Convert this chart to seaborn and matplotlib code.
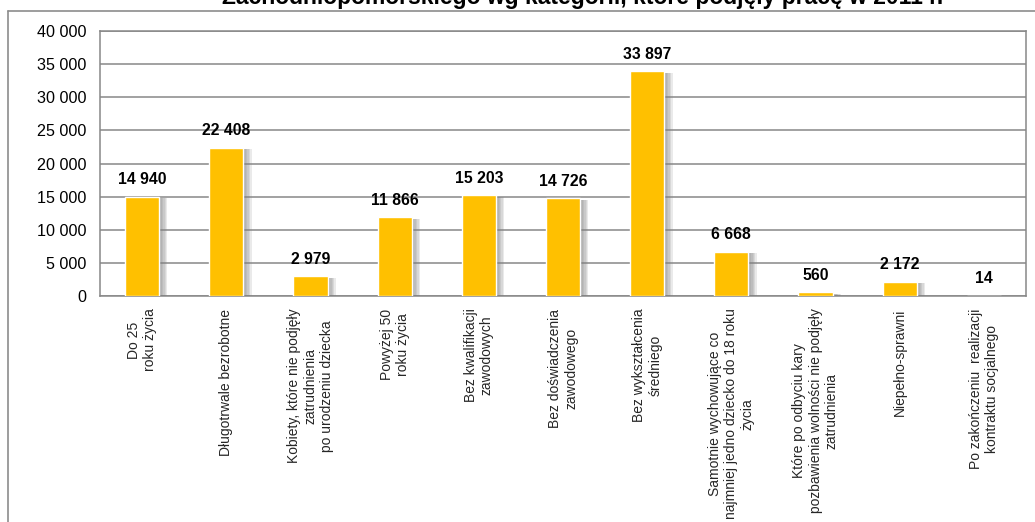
import matplotlib
matplotlib.use("Agg")
import matplotlib.pyplot as plt
import matplotlib.patheffects as pe
from matplotlib.ticker import FuncFormatter, FixedLocator
from matplotlib.lines import Line2D
import seaborn as sns
import pandas as pd

categories = [
    "Do 25\nroku życia",
    "Długotrwale bezrobotne",
    "Kobiety, które nie podjęły\nzatrudnienia\npo urodzeniu dziecka",
    "Powyżej 50\nroku życia",
    "Bez kwalifikacji\nzawodowych",
    "Bez doświadczenia\nzawodowego",
    "Bez wykształcenia\nśredniego",
    "Samotnie wychowujące co\nnajmniej jedno dziecko do 18 roku\nżycia",
    "Które po odbyciu kary\npozbawienia wolności nie podjęły\nzatrudnienia",
    "Niepełno-sprawni",
    "Po zakończeniu  realizacji\nkontraktu socjalnego",
]
values = [14940, 22408, 2979, 11866, 15203, 14726, 33897, 6668, 560, 2172, 14]
y_ticks = [0, 5000, 10000, 15000, 20000, 25000, 30000, 35000, 40000]
title = "Zachodniopomorskiego wg kategorii, które podjęły pracę w 2011 r."

df = pd.DataFrame({"kategoria": categories, "liczba": values})

sns.set_theme(style="white")
plt.rcParams["font.family"] = ["Liberation Sans", "DejaVu Sans"]

W, H = 1035, 522
fig = plt.figure(figsize=(W / 100, H / 100), dpi=100)
ax = fig.add_axes([100 / W, 1 - 296 / H, (1026 - 100) / W, (296 - 31) / H])

grid_col = "#878787"
sns.barplot(data=df, x="kategoria", y="liczba", color="#FFC000", width=0.405,
            saturation=1, ax=ax, zorder=3)
shadow = [pe.SimplePatchShadow(offset=(k, -1), shadow_rgbFace="#808080", alpha=0.16)
          for k in (6, 5, 4, 3, 2)]
for p in ax.patches:
    p.set_path_effects(shadow + [pe.Normal()])

fmt = lambda v: f"{v:,.0f}".replace(",", " ")
for cont in ax.containers:
    ax.bar_label(cont, labels=[fmt(v) for v in values], padding=7,
                 fontsize=11.3, fontweight="bold", color="#000000")

ax.set_ylim(0, 40000)
ax.set_xlim(-0.5, len(categories) - 0.5)
ax.yaxis.set_major_locator(FixedLocator(y_ticks))
ax.yaxis.set_major_formatter(FuncFormatter(lambda v, p: fmt(v)))
ax.yaxis.grid(True, color=grid_col, linewidth=1.1, zorder=0)
ax.set_axisbelow(True)
ax.set_xlabel("")
ax.set_ylabel("")

ax.set_xticks(range(len(categories)))
ax.set_xticklabels(categories, rotation=90, ha="center", va="top",
                   multialignment="center", fontsize=10)
ax.tick_params(axis="x", which="major", length=0, pad=9)
ax.set_xticks([i - 0.5 for i in range(len(categories) + 1)], minor=True)
ax.tick_params(axis="x", which="minor", length=5, width=1, color=grid_col, direction="out")
ax.tick_params(axis="y", length=5, width=1, color=grid_col, direction="out", labelsize=11.6, pad=5)
for lbl in ax.get_yticklabels():
    lbl.set_color("#000000")

for s in ["left", "bottom", "right", "top"]:
    ax.spines[s].set_visible(True)
    ax.spines[s].set_color(grid_col)
    ax.spines[s].set_linewidth(1.1)

# outer chart frame
fig.add_artist(Line2D([8 / W, 1.0], [1 - 11 / H, 1 - 11 / H], color="#8c8c8c", lw=1.2))
fig.add_artist(Line2D([8 / W, 8 / W], [0.0, 1 - 11 / H], color="#8c8c8c", lw=1.2))

fig.text(583 / W, 1 - 4 / H, title, ha="center", va="baseline",
         fontsize=16.5, fontweight="bold", color="#000000")

fig.savefig("out.png", dpi=100)
